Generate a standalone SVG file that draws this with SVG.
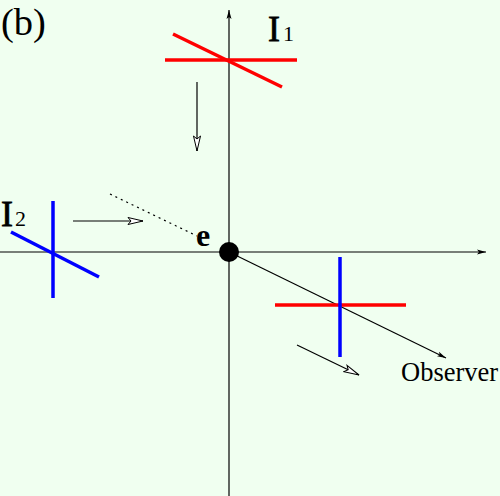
<svg xmlns="http://www.w3.org/2000/svg" width="500" height="496" viewBox="0 0 500 496">
<style>
.serif{font-family:"Liberation Serif","Times New Roman",serif;fill:#000}
.ax{stroke:#000;stroke-width:1.2;fill:none}
.mv{stroke:#000;stroke-width:1.2;fill:none}
.red{stroke:#ff0000;stroke-width:3.5;fill:none}
.blue{stroke:#0000ff;stroke-width:3.5;fill:none}
</style>
<defs>
<marker id="axh" markerUnits="userSpaceOnUse" markerWidth="9" markerHeight="6" viewBox="0 0 9 6" refX="9" refY="3" orient="auto">
<path d="M0,0.5 L9,3 L0,5.5 L2,3 Z" fill="#000"/>
</marker>
<marker id="open" markerUnits="userSpaceOnUse" markerWidth="17" markerHeight="9" viewBox="-1 -1 17 9" refX="15" refY="3.5" orient="auto">
<path d="M0,0 L15,3.5 L0,7 L3,3.5 Z" fill="#ffffff" stroke="#000" stroke-width="1"/>
</marker>
</defs>
<rect width="500" height="496" fill="#f0fff0"/>
<g id="connectors">
<line class="ax" x1="229" y1="496" x2="229" y2="10" marker-end="url(#axh)"/>
<line class="ax" x1="0" y1="252" x2="486" y2="252" marker-end="url(#axh)"/>
<line x1="110" y1="194" x2="197" y2="236" stroke="#000" stroke-width="1.2" stroke-dasharray="2,4"/>
<line class="mv" x1="229" y1="252" x2="446" y2="358" marker-end="url(#axh)"/>
<line class="mv" x1="197" y1="82" x2="197" y2="151" marker-end="url(#open)"/>
<line class="mv" x1="73" y1="221" x2="143" y2="221" marker-end="url(#open)"/>
<line class="mv" x1="297" y1="345" x2="359" y2="375" marker-end="url(#open)"/>
</g>
<g id="label-b"><text class="serif" x="1" y="35" font-size="38.5">(b)</text></g>
<g id="I1">
<line class="red" x1="165" y1="60" x2="297" y2="60"/>
<line class="red" x1="173" y1="34" x2="282" y2="87"/>
<text class="serif" x="268" y="41"><tspan font-size="36" stroke="#000" stroke-width="0.8">I</tspan><tspan font-size="22" x="283">1</tspan></text>
</g>
<g id="I2">
<line class="blue" x1="53" y1="201" x2="53" y2="298"/>
<line class="blue" x1="11" y1="232" x2="99" y2="277"/>
<text class="serif" x="1" y="226"><tspan font-size="36" stroke="#000" stroke-width="0.8">I</tspan><tspan font-size="22" x="15">2</tspan></text>
</g>
<g id="center">
<circle cx="229" cy="252" r="10" fill="#000"/>
<text class="serif" x="196" y="246" font-size="32" font-weight="bold">e</text>
</g>
<g id="observer-image">
<line class="red" x1="275" y1="305" x2="406" y2="305"/>
<line class="blue" x1="340" y1="257" x2="340" y2="357"/>
</g>
<g id="observer"><text class="serif" x="401" y="381" font-size="26.5">Observer</text></g>
</svg>
